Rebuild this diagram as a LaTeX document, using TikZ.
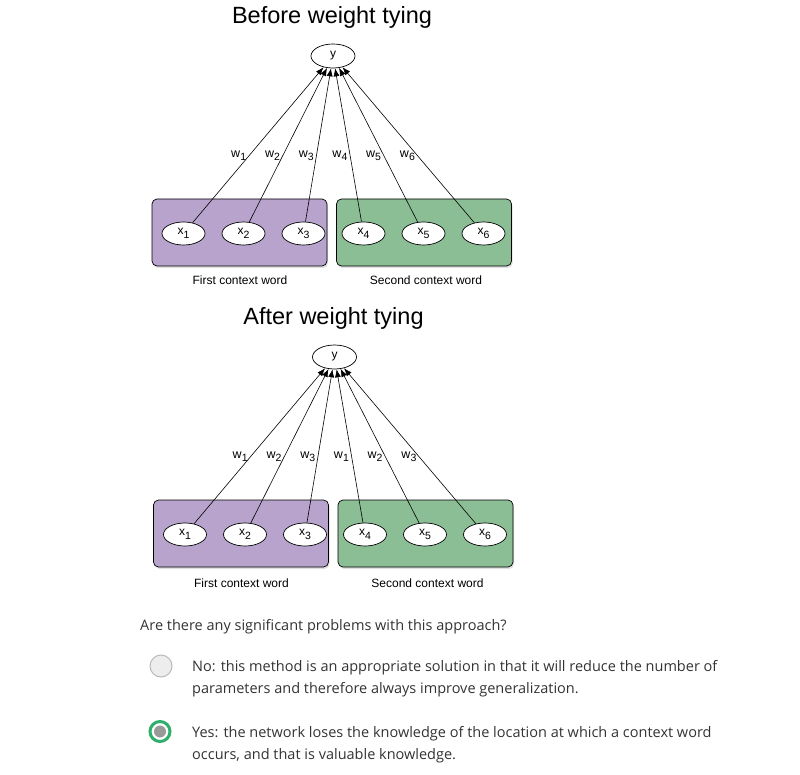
\documentclass[tikz,border=0pt]{standalone}
\usepackage{fontspec}
\setmainfont{Liberation Sans}
\newfontfamily\quizfont{Open Sans}
\usepackage{tikz}
\usetikzlibrary{positioning,shapes.geometric,arrows.meta,shadows}
\definecolor{firstCtx}{HTML}{B7A3CB}
\definecolor{secondCtx}{HTML}{8BBE95}
\definecolor{quizText}{HTML}{333333}
\definecolor{radioOk}{HTML}{2EAF6B}
\newcommand{\lowsub}[1]{\raisebox{-3.5pt}{\fontsize{10.5}{12}\selectfont #1}}
\tikzstyle{wChan}=[-{Latex[length=8pt,width=6pt]}, black, line width=0.6pt]
\tikzstyle{unit}=[ellipse, draw=black, fill=white, line width=0.7pt, minimum width=43pt, minimum height=23pt, inner sep=0pt, font=\fontsize{12}{14}\selectfont]
\tikzstyle{ctx_box}=[rectangle, rounded corners=5pt, draw=black, line width=0.7pt, minimum width=175pt, minimum height=67pt, drop shadow={shadow xshift=1pt, shadow yshift=-2pt, opacity=0.25}]
\tikzstyle{wLabel}=[pos=0.43, anchor=east, inner sep=2.5pt, font=\fontsize{12.5}{14}\selectfont]
\tikzstyle{caption}=[font=\fontsize{12}{14}\selectfont]
\tikzstyle{heading}=[font=\fontsize{23.5}{28}\selectfont]
\tikzstyle{quiz}=[anchor=west, align=left, inner sep=0pt, text=quizText, font=\quizfont\fontsize{14.5}{22}\selectfont]

\begin{document}
\begin{tikzpicture}[x=1pt, y=-1pt]
        \useasboundingbox (0,0) rectangle (800,775);

        %Before
        \node [style=heading] (titleB) at (332,17) {Before weight tying};
        \node [style=unit, minimum width=44pt, minimum height=24pt] (yB) at (333,56) {y};
        \node [style=ctx_box, fill=firstCtx] (firstB) at (239.5,232.5) {};
        \node [style=ctx_box, fill=secondCtx] (secondB) at (424,232.5) {};
        \node [style=caption] (firstTextB) at (240,280) {First context word};
        \node [style=caption] (secondTextB) at (426,280) {Second context word};
        \foreach \i/\w in {1/1,2/2,3/3,4/4,5/5,6/6} {
            \node [style=unit] (xB\i) at ({123.5+60*\i},233.5) {x\lowsub{\i}};
            \draw [style={wChan}] (xB\i) to node[style=wLabel] {w\lowsub{\w}} (yB);
        }

        % After
        \begin{scope}[shift={(1.5,301)}]
            \node [style=heading] (titleA) at (332,17) {After weight tying};
            \node [style=unit, minimum width=44pt, minimum height=24pt] (yA) at (333,56) {y};
            \node [style=ctx_box, fill=firstCtx] (firstA) at (239.5,232.5) {};
            \node [style=ctx_box, fill=secondCtx] (secondA) at (424,232.5) {};
            \node [style=caption] (firstTextA) at (240,282) {First context word};
            \node [style=caption] (secondTextA) at (426,282) {Second context word};
            \foreach \i/\w in {1/1,2/2,3/3,4/1,5/2,6/3} {
                \node [style=unit] (xA\i) at ({123.5+60*\i},233.5) {x\lowsub{\i}};
                \draw [style={wChan}] (xA\i) to node[style=wLabel] {w\lowsub{\w}} (yA);
            }
        \end{scope}

        % Question
        \node [style=quiz] (question) at (140,627) {Are there any significant problems with this approach?};
        \node [circle, minimum size=22pt, inner sep=0pt, fill=black!7, draw=black!27, line width=1pt] (radioNo) at (161,666) {};
        \node [style=quiz] (answerNo) at (192,679) {No: this method is an appropriate solution in that it will reduce the number of\\parameters and therefore always improve generalization.};
        \node [circle, minimum size=20pt, inner sep=0pt, fill=white, draw=radioOk, line width=3pt] (radioYes) at (160,731.5) {};
        \node [circle, minimum size=12pt, inner sep=0pt, fill=black!40] (radioYesDot) at (radioYes) {};
        \node [style=quiz] (answerYes) at (192,745) {Yes: the network loses the knowledge of the location at which a context word\\occurs, and that is valuable knowledge.};
\end{tikzpicture}
\end{document}
